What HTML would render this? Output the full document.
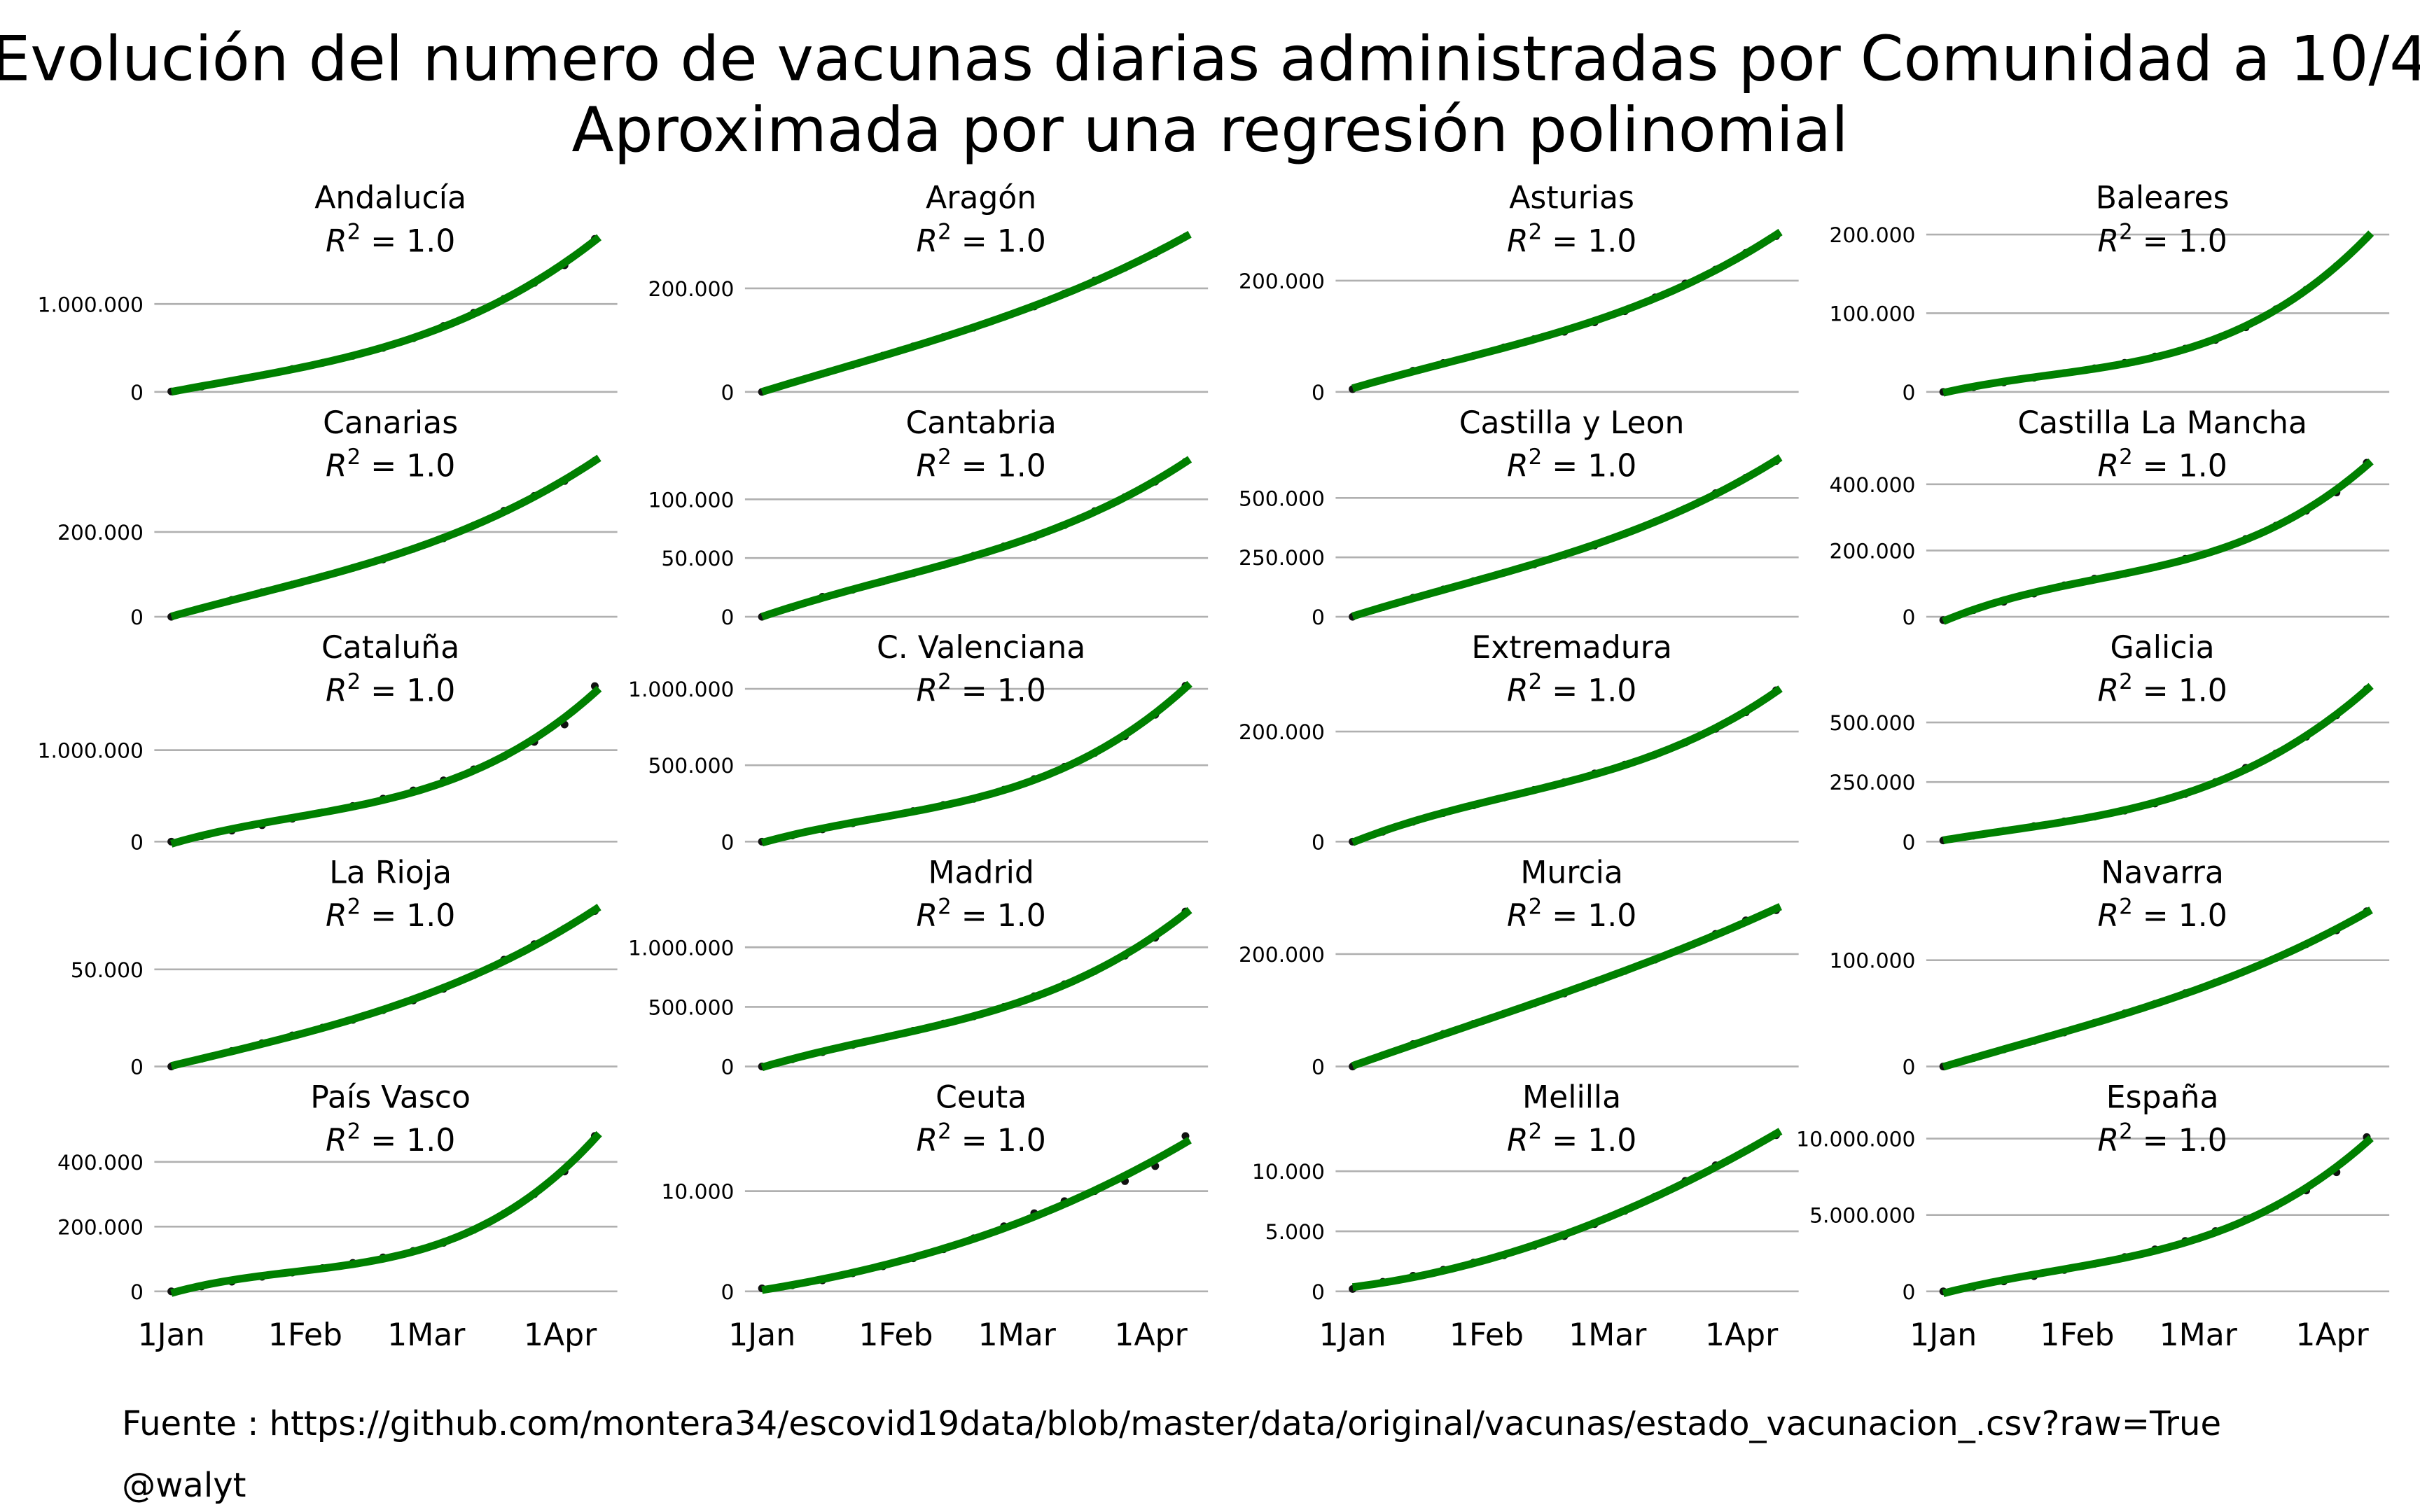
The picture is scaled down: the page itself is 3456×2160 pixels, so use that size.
<!DOCTYPE html>
<html><head><meta charset="utf-8"><style>
html,body{margin:0;padding:0;background:#fff;}
svg{display:block;font-family:"DejaVu Sans","Liberation Sans",sans-serif;}
</style></head>
<body>
<svg id="fig" width="3456" height="2160" viewBox="0 0 1568 980" xmlns="http://www.w3.org/2000/svg">
<rect width="1568" height="980" fill="#fff"/>
<text x="784" y="52" font-size="40" text-anchor="middle">Evolución del numero de vacunas diarias administradas por Comunidad a 10/4</text>
<text x="784" y="98" font-size="40" text-anchor="middle">Aproximada por una regresión polinomial</text>
<text x="79" y="930" font-size="21.8">Fuente : https://github.com/montera34/escovid19data/blob/master/data/original/vacunas/estado_vacunacion_.csv?raw=True</text>
<text x="79" y="970" font-size="21.8">@walyt</text>
<g id="panels"></g>
</svg>
<script>
const regions = ["Andalucía","Aragón","Asturias","Baleares","Canarias","Cantabria","Castilla y Leon","Castilla La Mancha","Cataluña","C. Valenciana","Extremadura","Galicia","La Rioja","Madrid","Murcia","Navarra","País Vasco","Ceuta","Melilla","España"];
const days = [0,7,14,21,28,35,42,49,56,63,70,77,84,91,98];
const monthTickDays = [0,31,59,90];
const monthTickLabels = ["1Jan","1Feb","1Mar","1Apr"];
// cumulative vaccines, thousands
const vAndalucia = [5,60,125,190,260,330,410,500,610,750,900,1060,1240,1440,1740];
const vAragon = [0,18,35,52,70,88,106,124,145,165,190,215,240,268,300];
const vAsturias = [5,22,38,52,65,80,95,108,125,145,170,195,220,250,280];
const vBaleares = [0,6,12,18,24,30,37,45,55,66,82,105,130,160,196];
const vCanarias = [0,20,40,58,76,95,115,135,160,185,215,250,285,320,368];
const vCantabria = [0,8,17,23,30,37,44,52,60,68,78,90,102,115,132];
const vCyL = [0,40,80,115,150,185,220,260,300,350,400,455,520,585,655];
const vCLM = [-10,20,45,70,95,115,130,150,175,200,235,275,320,375,465];
const vCataluna = [0,60,120,180,250,320,390,470,560,670,790,930,1090,1280,1700];
const vCValenciana = [0,40,80,120,160,200,240,280,340,410,490,580,690,830,1020];
const vExtremadura = [0,18,36,52,66,80,94,108,124,140,158,180,205,235,275];
const vGalicia = [5,25,45,65,85,105,130,160,200,250,310,370,440,530,640];
const vLaRioja = [0,4,8,12,16,20,24,29,34,40,47,55,63,71,80];
const vMadrid = [0,60,120,180,240,300,360,420,500,590,690,800,930,1080,1300];
const vMurcia = [0,20,40,58,76,94,112,130,150,170,190,212,236,260,278];
const vNavarra = [0,8,16,24,32,41,50,59,69,79,90,102,115,128,146];
const vPaisVasco = [0,15,30,45,58,72,88,105,125,150,190,240,300,370,480];
const vCeuta = [0.3,0.6,1.1,1.8,2.5,3.3,4.2,5.3,6.5,7.8,9.0,10.0,11.0,12.5,15.5];
const vMelilla = [0.2,0.8,1.3,1.8,2.4,3.0,3.8,4.6,5.6,6.7,7.9,9.2,10.5,11.7,13.0];
const vEspana = [0,300,650,1000,1400,1800,2250,2750,3300,3950,4700,5600,6600,7800,10100];
const seriesValues = [vAndalucia,vAragon,vAsturias,vBaleares,vCanarias,vCantabria,vCyL,vCLM,vCataluna,vCValenciana,vExtremadura,vGalicia,vLaRioja,vMadrid,vMurcia,vNavarra,vPaisVasco,vCeuta,vMelilla,vEspana];
const yTopValues = [1790,304,283,200,371,134,662,475,1720,1030,286,660,81,1320,280,148,486,15.7,13.1,10300];
const yTicks = [[0,1000],[0,200],[0,200],[0,100,200],[0,200],[0,50,100],[0,250,500],[0,200,400],[0,1000],[0,500,1000],[0,200],[0,250,500],[0,50],[0,500,1000],[0,200],[0,100],[0,200,400],[0,10],[0,5,10],[0,5000,10000]];

const NS="http://www.w3.org/2000/svg";
function mk(tag, attrs, parent){const e=document.createElementNS(NS,tag);for(const k in attrs)e.setAttribute(k,attrs[k]);parent.appendChild(e);return e;}
function fmt(k){const n=Math.round(k*1000);return n.toString().replace(/\B(?=(\d{3})+(?!\d))/g,".");}
function polyfit(xs,ys,deg){
  const m=deg+1,A=[];for(let i=0;i<m;i++){A.push(new Array(m+1).fill(0));}
  for(let p=0;p<xs.length;p++){for(let i=0;i<m;i++){for(let j=0;j<m;j++)A[i][j]+=Math.pow(xs[p],i+j);A[i][m]+=ys[p]*Math.pow(xs[p],i);}}
  for(let i=0;i<m;i++){let mx=i;for(let r=i+1;r<m;r++)if(Math.abs(A[r][i])>Math.abs(A[mx][i]))mx=r;[A[i],A[mx]]=[A[mx],A[i]];
    for(let r=0;r<m;r++){if(r===i)continue;const f=A[r][i]/A[i][i];for(let c=i;c<=m;c++)A[r][c]-=f*A[i][c];}}
  return A.map((row,i)=>row[m]/row[i]);
}
const root=document.getElementById('panels');
const colStep=382.7,rowStep=145.75;
regions.forEach((name,idx)=>{
  const c=idx%4,r=Math.floor(idx/4);
  const ox=c*colStep, base=254+r*rowStep;
  const xS=d=>111+ox+d*2.8;
  const yS=v=>base-v/yTopValues[idx]*102;
  const g=mk('g',{},root);
  
  
  yTicks[idx].forEach(t=>{
    const y=yS(t);
    const gl=mk('line',{x1:100+ox,x2:400+ox,y1:y,y2:y,stroke:'#b0b0b0','stroke-width':1.2},g);
    
    
    const tl=mk('text',{x:93+ox,y:y+5,'font-size':13.5,'text-anchor':'end'},g);
    
    
    tl.textContent=fmt(t);
  });
  const vals=seriesValues[idx];
  const ts=days.map(d=>d/100);
  const co=polyfit(ts,vals,3);
  let dPath='';
  for(let d=0;d<=99;d++){const t=d/100;const v=co[0]+co[1]*t+co[2]*t*t+co[3]*t*t*t;dPath+=(d?'L':'M')+xS(d).toFixed(2)+','+yS(v).toFixed(2);}
  days.forEach((d,i)=>{
    const pt=mk('circle',{cx:xS(d),cy:yS(vals[i]),r:2.5,fill:'#111'},g);
    
    
  });
  const fl=mk('path',{d:dPath,fill:'none',stroke:'#008000','stroke-width':5,'stroke-linejoin':'round'},g);
  
  
  const tt=mk('text',{x:253+ox,y:135,'font-size':20,'text-anchor':'middle'},g);
  tt.setAttribute('transform','translate(0,'+(r*rowStep)+')');
  
  
  tt.textContent=name;
  const rt=mk('text',{x:253+ox,y:163,'font-size':20,'text-anchor':'middle'},g);
  rt.setAttribute('transform','translate(0,'+(r*rowStep)+')');
  
  
  rt.innerHTML='<tspan font-style="italic">R</tspan><tspan dy="-8" font-size="14">2</tspan><tspan dy="8"> = 1.0</tspan>';
  if(r===4){
    monthTickDays.forEach((d,i)=>{
      const xl=mk('text',{x:xS(d),y:872,'font-size':20,'text-anchor':'middle'},g);
      
      
      xl.textContent=monthTickLabels[i];
    });
  }
});
</script>
</body></html>
